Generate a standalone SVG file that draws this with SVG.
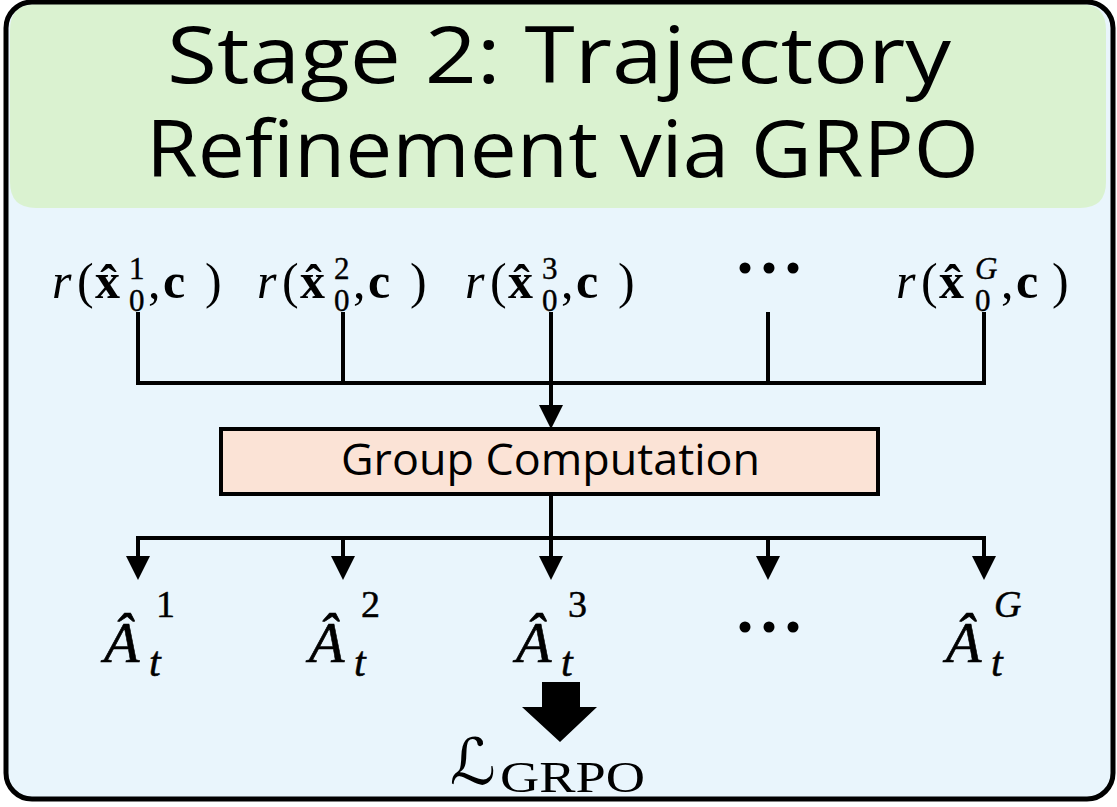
<svg xmlns="http://www.w3.org/2000/svg" width="1117" height="807" viewBox="0 0 1117 807">
  <defs>
    <style>
      .title { font-family: "Open Sans", "DejaVu Sans", sans-serif; font-size: 78px; fill: #000; }
      .box-label { font-family: "Open Sans", "DejaVu Sans", sans-serif; font-size: 44px; fill: #000; }
      .m { font-family: "Liberation Serif", "DejaVu Serif", serif; font-size: 50px; fill: #000; }
      .mi { font-style: italic; }
      .mb { font-weight: bold; }
      .s { font-size: 31px; stroke: #000; stroke-width: 0.4; }
      .A { font-family: "Liberation Serif", "DejaVu Serif", serif; font-size: 58px; font-style: italic; fill: #000; stroke: #000; stroke-width: 0.6; }
      .As { font-family: "Liberation Serif", "DejaVu Serif", serif; font-size: 38px; fill: #000; stroke: #000; stroke-width: 0.5; }
      .At { font-size: 42px; }
      .wire { fill: none; stroke: #000; stroke-width: 4; }
    </style>
    <marker id="arrow" markerUnits="userSpaceOnUse" markerWidth="26" markerHeight="24" refX="0" refY="12" orient="auto" viewBox="0 0 26 24">
      <path d="M0,0 L24,12 L0,24 z" fill="#000"/>
    </marker>
  </defs>

  <!-- panel background -->
  <rect x="6" y="2" width="1107" height="797" rx="26" fill="#E9F5FC"/>
  <!-- header band -->
  <path d="M10,30 Q10,4 36,4 L1080,4 Q1106,4 1106,30 L1106,182 Q1106,208 1080,208 L36,208 Q10,208 10,182 Z" fill="#DAF2D0"/>
  <!-- panel frame -->
  <rect x="6" y="2" width="1107" height="797" rx="26" fill="none" stroke="#000" stroke-width="5"/>

  <g id="title">
    <text class="title" x="167" y="83" textLength="784" lengthAdjust="spacingAndGlyphs">Stage 2: Trajectory</text>
    <text class="title" x="146" y="177" textLength="833" lengthAdjust="spacingAndGlyphs">Refinement via GRPO</text>
  </g>

  <!-- reward terms -->
  <g id="reward-1">
    <text class="m" y="298"><tspan x="52" class="mi">r</tspan><tspan x="77">(</tspan><tspan x="95" class="mb">x̂</tspan><tspan x="129" y="279" class="s">1</tspan><tspan x="129" y="311" class="s">0</tspan><tspan x="148" y="298">,</tspan><tspan x="163" class="mb">c</tspan><tspan x="205">)</tspan></text>
  </g>
  <g id="reward-2">
    <text class="m" y="298"><tspan x="257" class="mi">r</tspan><tspan x="282">(</tspan><tspan x="300" class="mb">x̂</tspan><tspan x="334" y="279" class="s">2</tspan><tspan x="334" y="311" class="s">0</tspan><tspan x="353" y="298">,</tspan><tspan x="368" class="mb">c</tspan><tspan x="410">)</tspan></text>
  </g>
  <g id="reward-3">
    <text class="m" y="298"><tspan x="465" class="mi">r</tspan><tspan x="490">(</tspan><tspan x="508" class="mb">x̂</tspan><tspan x="542" y="279" class="s">3</tspan><tspan x="542" y="311" class="s">0</tspan><tspan x="561" y="298">,</tspan><tspan x="576" class="mb">c</tspan><tspan x="618">)</tspan></text>
  </g>
  <g id="reward-dots">
    <circle cx="745" cy="268" r="5.5"/>
    <circle cx="769" cy="268" r="5.5"/>
    <circle cx="793" cy="268" r="5.5"/>
  </g>
  <g id="reward-G">
    <text class="m" y="298"><tspan x="896" class="mi">r</tspan><tspan x="921">(</tspan><tspan x="939" class="mb">x̂</tspan><tspan x="975" y="279" class="s mi">G</tspan><tspan x="975" y="311" class="s">0</tspan><tspan x="1001" y="298">,</tspan><tspan x="1016" class="mb">c</tspan><tspan x="1052">)</tspan></text>
  </g>

  <g id="group-computation">
    <rect x="221" y="429" width="657" height="65" fill="#FBE3D6" stroke="#000" stroke-width="4"/>
    <text class="box-label" x="341" y="475" textLength="419" lengthAdjust="spacingAndGlyphs">Group Computation</text>
  </g>

  <!-- advantages -->
  <g id="adv-1">
    <text class="A" x="104" y="662">Â</text>
    <text class="As" x="156" y="617">1</text>
    <text class="As At mi" x="149" y="676">t</text>
  </g>
  <g id="adv-2">
    <text class="A" x="309" y="662">Â</text>
    <text class="As" x="361" y="617">2</text>
    <text class="As At mi" x="354" y="676">t</text>
  </g>
  <g id="adv-3">
    <text class="A" x="516" y="662">Â</text>
    <text class="As" x="568" y="617">3</text>
    <text class="As At mi" x="561" y="676">t</text>
  </g>
  <g id="adv-dots">
    <circle cx="745" cy="627" r="5.5"/>
    <circle cx="769" cy="627" r="5.5"/>
    <circle cx="793" cy="627" r="5.5"/>
  </g>
  <g id="adv-G">
    <text class="A" x="946" y="662">Â</text>
    <text class="As mi" x="994" y="617">G</text>
    <text class="As At mi" x="991" y="676">t</text>
  </g>

  <g id="loss">
    <text x="450" y="784" style="font-family: 'DejaVu Serif', 'DejaVu Sans', serif; font-size: 64px;">ℒ</text>
    <text x="500" y="792" textLength="145" lengthAdjust="spacingAndGlyphs" style="font-family: 'Liberation Serif', serif; font-size: 45px;">GRPO</text>
  </g>

  <g id="connectors">
    <!-- rewards gathered into the group step -->
    <path class="wire" d="M138,312 V383 H984 V312 M343,312 V383 M768,312 V383"/>
    <path class="wire" d="M551,312 V405" marker-end="url(#arrow)"/>
    <!-- group step fanned out to each advantage -->
    <path class="wire" d="M551,496 V538 M138,558 V538 H984 V558"/>
    <path class="wire" d="M138,536 V556" marker-end="url(#arrow)"/>
    <path class="wire" d="M343,536 V556" marker-end="url(#arrow)"/>
    <path class="wire" d="M551,536 V556" marker-end="url(#arrow)"/>
    <path class="wire" d="M768,536 V556" marker-end="url(#arrow)"/>
    <path class="wire" d="M984,536 V556" marker-end="url(#arrow)"/>
    <!-- block arrow into the loss -->
    <polygon points="542,682 580,682 580,707 597,707 560,742 522,707 542,707" fill="#000"/>
  </g>
</svg>
